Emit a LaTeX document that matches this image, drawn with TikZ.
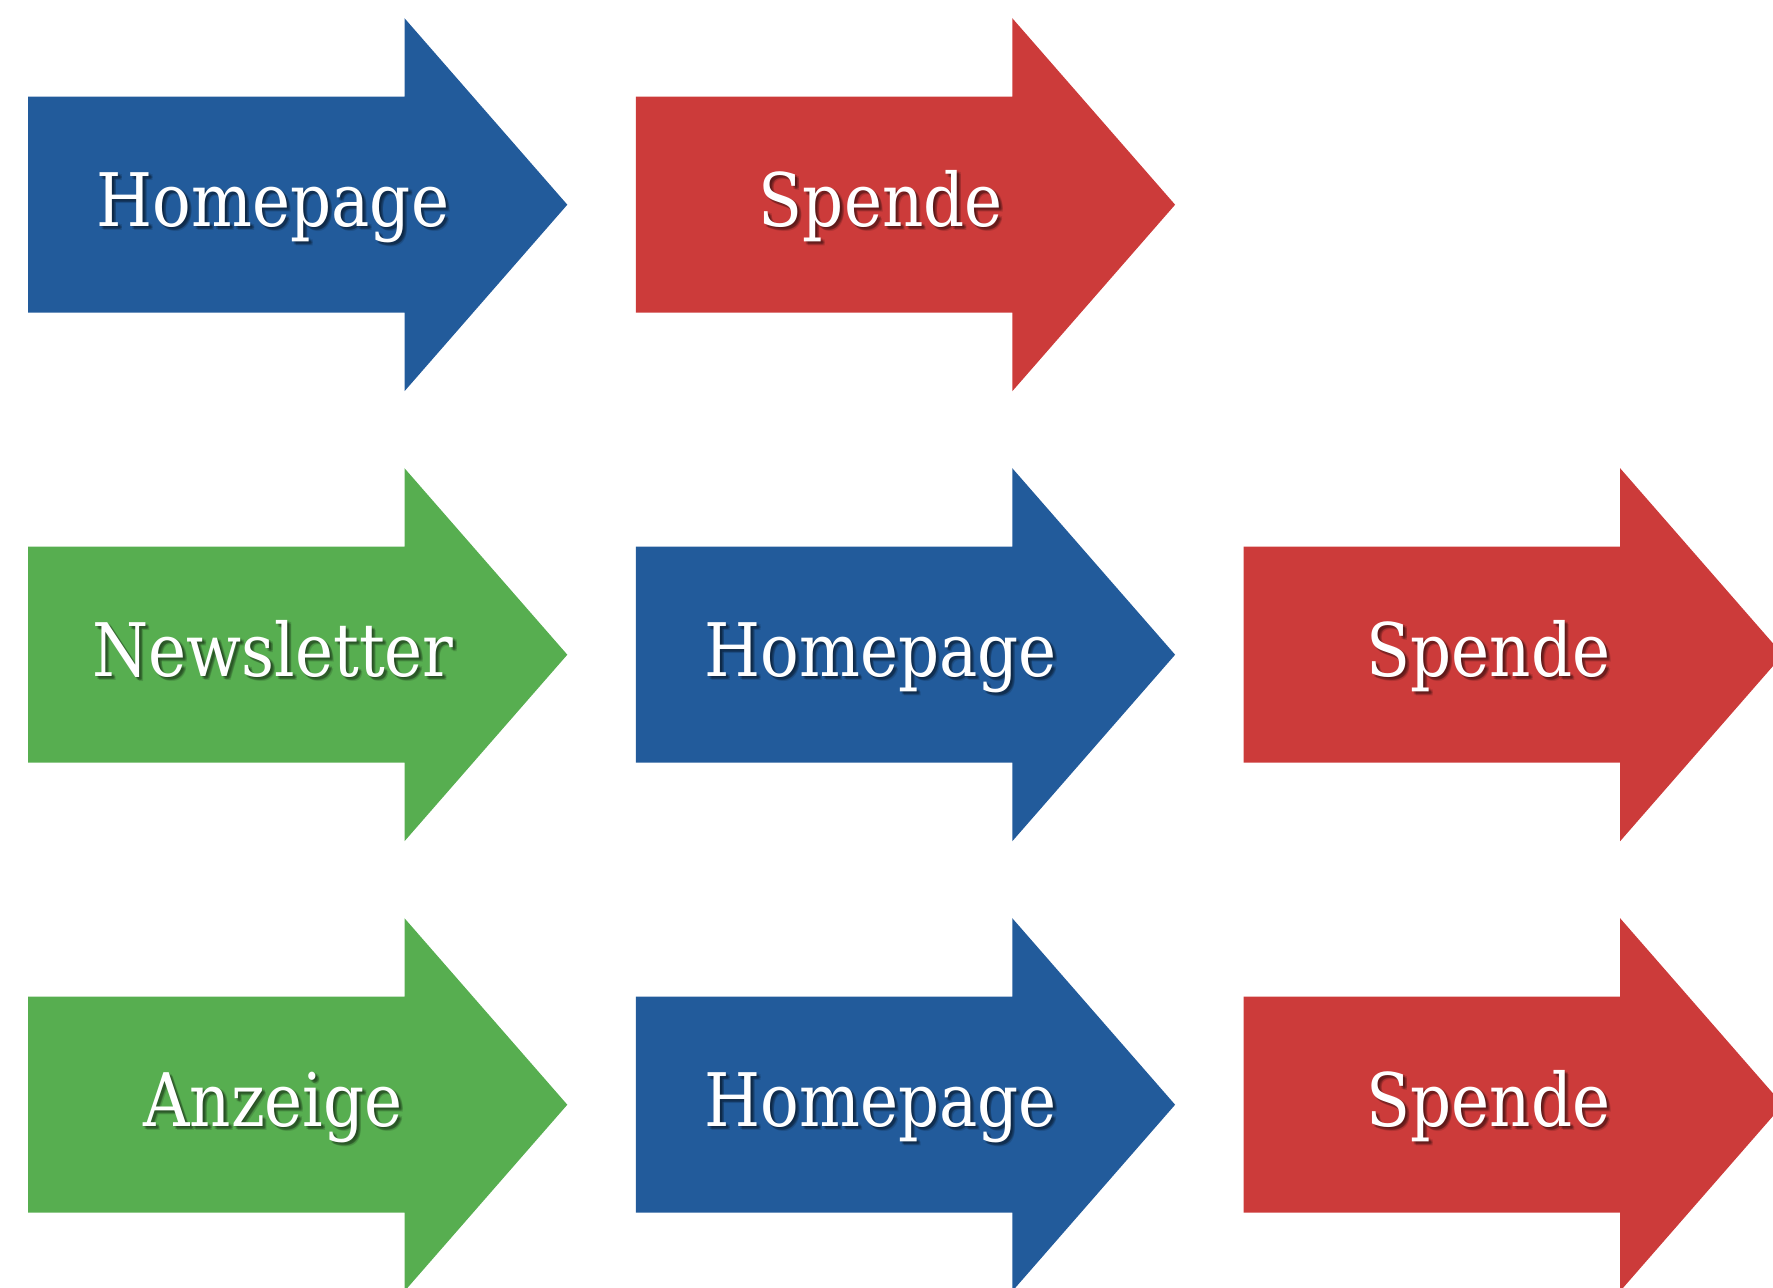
\documentclass[tikz,border=0pt]{standalone}
\usepackage{fontspec}
\usepackage{graphicx}
\setmainfont{DejaVu Serif}
\definecolor{ablue}{RGB}{34,91,155}
\definecolor{ared}{RGB}{204,59,58}
\definecolor{agreen}{RGB}{87,174,80}
\newcommand{\lbltext}[1]{\scalebox{0.87}[1]{\fontsize{21}{21}\selectfont #1}}
\tikzset{
  lbl/.style={text=white, anchor=base, inner sep=0pt},
  shadowlbl/.style={text=black, opacity=0.14, anchor=base, inner sep=0pt}
}
\newcommand{\bigarrow}[5]{% name, x0, yc, color, text
  \fill[#4] (#2,#3-108) -- (#2+376.5,#3-108) -- (#2+376.5,#3-186.5) -- (#2+539.3,#3)
     -- (#2+376.5,#3+186.5) -- (#2+376.5,#3+108) -- (#2,#3+108) -- cycle;
  \node[shadowlbl] (#1sa) at (#2+245+1.5,#3+21.5+1.5) {\lbltext{#5}};
  \node[shadowlbl] (#1sb) at (#2+245+3,#3+21.5+3) {\lbltext{#5}};
  \node[shadowlbl] (#1sc) at (#2+245+2,#3+21.5+3.5) {\lbltext{#5}};
  \node[shadowlbl] (#1sd) at (#2+245+3.5,#3+21.5+2) {\lbltext{#5}};
  \node[shadowlbl] (#1se) at (#2+245+4,#3+21.5+4) {\lbltext{#5}};
  \node[lbl] (#1) at (#2+245,#3+21.5) {\lbltext{#5}};
}
\begin{document}
\begin{tikzpicture}[x=0.01cm,y=-0.01cm]
\useasboundingbox (0,0) rectangle (1773,1287);
\clip (0,0) rectangle (1773,1287);
\bigarrow{a11}{28}{204.7}{ablue}{Homepage}
\bigarrow{a12}{635.8}{204.7}{ared}{Spende}
\bigarrow{a21}{28}{654.7}{agreen}{Newsletter}
\bigarrow{a22}{635.8}{654.7}{ablue}{Homepage}
\bigarrow{a23}{1243.6}{654.7}{ared}{Spende}
\bigarrow{a31}{28}{1104.7}{agreen}{Anzeige}
\bigarrow{a32}{635.8}{1104.7}{ablue}{Homepage}
\bigarrow{a33}{1243.6}{1104.7}{ared}{Spende}
\end{tikzpicture}
\end{document}
